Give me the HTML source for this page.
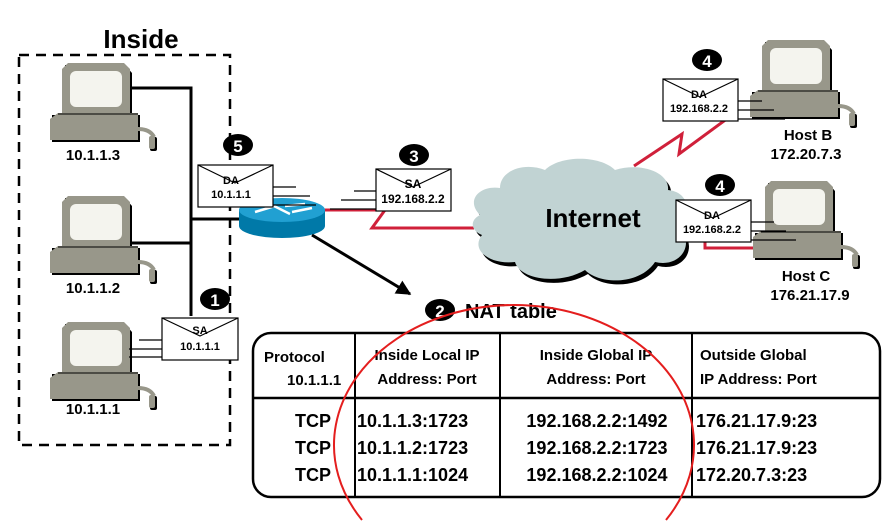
<!DOCTYPE html>
<html><head><meta charset="utf-8"><style>
html,body{margin:0;padding:0;background:#fff;width:891px;height:521px;overflow:hidden;}
svg{display:block;font-family:"Liberation Sans",Arial,sans-serif;font-weight:bold;overflow:hidden;}
</style></head><body>
<svg width="891" height="521" viewBox="0 0 891 521" xmlns="http://www.w3.org/2000/svg">
<defs>
<g id="pc">
  <path d="M15,2 L75,2 L82,10 L82,52 L15,52 Z" fill="#000"/>
  <path d="M12,6 L18,0 L74,0 L80,6 L80,50 L12,50 Z" fill="#98978a"/>
  <rect x="20" y="8" width="52" height="36" rx="6" fill="#f4f4ee"/>
  <rect x="2" y="52" width="88" height="27" fill="#000"/>
  <path d="M0,56 L8,50 L88,50 L88,77 L0,77 Z" fill="#98978a"/>
  <line x1="8" y1="51" x2="88" y2="51" stroke="#000" stroke-width="1"/>
  <path d="M88,66 Q100,66 104,74" stroke="#98978a" stroke-width="4" fill="none"/>
  <rect x="100" y="74" width="7" height="14" rx="2" fill="#000"/>
  <rect x="99" y="73" width="6" height="13" rx="2" fill="#98978a"/>
</g>
<marker id="ah" viewBox="0 0 10 10" refX="9" refY="5" markerWidth="5" markerHeight="5" orient="auto"><path d="M0,0 L10,5 L0,10 Z" fill="#000"/></marker>
</defs>

<text x="141" y="48" font-size="26" text-anchor="middle">Inside</text>
<rect x="19" y="55" width="211" height="390" fill="none" stroke="#000" stroke-width="2.5" stroke-dasharray="10,7"/>

<polyline points="127,88 191,88 191,316" fill="none" stroke="#000" stroke-width="3"/>
<line x1="127" y1="243" x2="191" y2="243" stroke="#000" stroke-width="3"/>
<line x1="191" y1="219" x2="240" y2="219" stroke="#000" stroke-width="3"/>

<use href="#pc" x="50" y="63"/>
<use href="#pc" x="50" y="196"/>
<use href="#pc" x="50" y="322"/>
<text x="93" y="160" font-size="15" text-anchor="middle">10.1.1.3</text>
<text x="93" y="293" font-size="15" text-anchor="middle">10.1.1.2</text>
<text x="93" y="414" font-size="15" text-anchor="middle">10.1.1.1</text>

<line x1="139" y1="340" x2="162" y2="340" stroke="#000" stroke-width="1.2"/>
<line x1="129" y1="349" x2="162" y2="349" stroke="#000" stroke-width="1.2"/>
<line x1="129" y1="357" x2="162" y2="357" stroke="#000" stroke-width="1.2"/>
<rect x="162" y="318" width="76" height="42" fill="#fff" stroke="#000" stroke-width="1.2"/>
<polyline points="162,318 200,336 238,318" fill="none" stroke="#000" stroke-width="1.2"/>
<text x="200" y="334" font-size="11" text-anchor="middle">SA</text>
<text x="200" y="350" font-size="11" text-anchor="middle">10.1.1.1</text>
<ellipse cx="215" cy="299" rx="15" ry="11" fill="#000"/>
<text x="215" y="306" font-size="17" fill="#fff" text-anchor="middle">1</text>

<polyline points="322,210 385,210 372,228 474,228" fill="none" stroke="#d0203a" stroke-width="3"/>
<polyline points="634,166 682,134 679,154 728,118" fill="none" stroke="#d0203a" stroke-width="3"/>
<polyline points="705,242 705,248 760,248" fill="none" stroke="#d0203a" stroke-width="3"/>

<path d="M239,210 L239,226 A43,12 0 0 0 325,226 L325,210 Z" fill="#0079a8"/>
<ellipse cx="282" cy="210" rx="43" ry="12" fill="#21a0d2"/>
<path d="M255,212 L275,206 M270,204 L290,214 M285,206 L305,204 M292,212 L312,208" stroke="#fff" stroke-width="2.5"/>

<line x1="273" y1="187" x2="296" y2="187" stroke="#000" stroke-width="1.2"/>
<line x1="273" y1="196" x2="310" y2="196" stroke="#000" stroke-width="1.2"/>
<line x1="273" y1="205" x2="316" y2="205" stroke="#000" stroke-width="1.2"/>
<rect x="198" y="165" width="75" height="42" fill="#fff" stroke="#000" stroke-width="1.2"/>
<polyline points="198,165 235,183 273,165" fill="none" stroke="#000" stroke-width="1.2"/>
<text x="231" y="184" font-size="11" text-anchor="middle">DA</text>
<text x="231" y="198" font-size="11" text-anchor="middle">10.1.1.1</text>
<ellipse cx="238" cy="145" rx="15" ry="11" fill="#000"/>
<text x="238" y="152" font-size="17" fill="#fff" text-anchor="middle">5</text>

<line x1="354" y1="191" x2="376" y2="191" stroke="#000" stroke-width="1.2"/>
<line x1="341" y1="200" x2="376" y2="200" stroke="#000" stroke-width="1.2"/>
<line x1="330" y1="209" x2="376" y2="209" stroke="#000" stroke-width="1.2"/>
<rect x="376" y="169" width="75" height="42" fill="#fff" stroke="#000" stroke-width="1.2"/>
<polyline points="376,169 413,187 451,169" fill="none" stroke="#000" stroke-width="1.2"/>
<text x="413" y="188" font-size="12" text-anchor="middle">SA</text>
<text x="413" y="203" font-size="12" text-anchor="middle">192.168.2.2</text>
<ellipse cx="414" cy="155" rx="15" ry="11" fill="#000"/>
<text x="414" y="162" font-size="17" fill="#fff" text-anchor="middle">3</text>

<line x1="312" y1="235" x2="410" y2="294" stroke="#000" stroke-width="3" marker-end="url(#ah)"/>

<g transform="translate(3,4)">
<path d="M480,215 C465,200 480,185 500,188 C500,170 525,162 545,170 C560,155 600,155 615,170 C640,162 670,172 668,190 C690,192 692,215 680,228 C695,245 680,268 655,262 C640,285 600,285 585,270 C560,285 520,280 515,262 C490,265 470,250 482,235 C470,230 470,220 480,215 Z" fill="#000"/>
</g>
<path d="M480,215 C465,200 480,185 500,188 C500,170 525,162 545,170 C560,155 600,155 615,170 C640,162 670,172 668,190 C690,192 692,215 680,228 C695,245 680,268 655,262 C640,285 600,285 585,270 C560,285 520,280 515,262 C490,265 470,250 482,235 C470,230 470,220 480,215 Z" fill="#c1d3d3"/>
<text x="593" y="227" font-size="26" text-anchor="middle">Internet</text>

<use href="#pc" x="750" y="40"/>
<line x1="738" y1="101" x2="762" y2="101" stroke="#000" stroke-width="1.2"/>
<line x1="738" y1="110" x2="774" y2="110" stroke="#000" stroke-width="1.2"/>
<line x1="738" y1="119" x2="785" y2="119" stroke="#000" stroke-width="1.2"/>
<rect x="663" y="79" width="75" height="42" fill="#fff" stroke="#000" stroke-width="1.2"/>
<polyline points="663,79 700,97 738,79" fill="none" stroke="#000" stroke-width="1.2"/>
<text x="699" y="98" font-size="11" text-anchor="middle">DA</text>
<text x="699" y="112" font-size="11" text-anchor="middle">192.168.2.2</text>
<ellipse cx="707" cy="60" rx="15" ry="11" fill="#000"/>
<text x="707" y="67" font-size="17" fill="#fff" text-anchor="middle">4</text>
<text x="808" y="140" font-size="15" text-anchor="middle">Host B</text>
<text x="806" y="159" font-size="15" text-anchor="middle">172.20.7.3</text>

<use href="#pc" x="753" y="181"/>
<line x1="751" y1="222" x2="774" y2="222" stroke="#000" stroke-width="1.2"/>
<line x1="751" y1="231" x2="786" y2="231" stroke="#000" stroke-width="1.2"/>
<line x1="751" y1="240" x2="796" y2="240" stroke="#000" stroke-width="1.2"/>
<rect x="676" y="200" width="75" height="42" fill="#fff" stroke="#000" stroke-width="1.2"/>
<polyline points="676,200 713,218 751,200" fill="none" stroke="#000" stroke-width="1.2"/>
<text x="712" y="219" font-size="11" text-anchor="middle">DA</text>
<text x="712" y="233" font-size="11" text-anchor="middle">192.168.2.2</text>
<ellipse cx="720" cy="185" rx="15" ry="11" fill="#000"/>
<text x="720" y="192" font-size="17" fill="#fff" text-anchor="middle">4</text>
<text x="806" y="281" font-size="15" text-anchor="middle">Host C</text>
<text x="810" y="300" font-size="15" text-anchor="middle">176.21.17.9</text>

<ellipse cx="440" cy="310" rx="15" ry="11" fill="#000"/>
<text x="440" y="317" font-size="17" fill="#fff" text-anchor="middle">2</text>
<text x="465" y="318" font-size="20">NAT table</text>
<rect x="253" y="333" width="627" height="164" rx="18" fill="none" stroke="#000" stroke-width="2.5"/>
<line x1="355" y1="333" x2="355" y2="497" stroke="#000" stroke-width="2"/>
<line x1="500" y1="333" x2="500" y2="497" stroke="#000" stroke-width="2"/>
<line x1="692" y1="333" x2="692" y2="497" stroke="#000" stroke-width="2"/>
<line x1="253" y1="398" x2="880" y2="398" stroke="#000" stroke-width="2.5"/>
<g font-size="15">
<text x="264" y="362">Protocol</text>
<text x="287" y="385">10.1.1.1</text>
<text x="427" y="360" text-anchor="middle">Inside Local IP</text>
<text x="427" y="384" text-anchor="middle">Address: Port</text>
<text x="596" y="360" text-anchor="middle">Inside Global IP</text>
<text x="596" y="384" text-anchor="middle">Address: Port</text>
<text x="700" y="360">Outside Global</text>
<text x="700" y="384">IP Address: Port</text>
</g>
<g font-size="18">
<text x="331" y="427" text-anchor="end">TCP</text>
<text x="331" y="454" text-anchor="end">TCP</text>
<text x="331" y="481" text-anchor="end">TCP</text>
<text x="357" y="427">10.1.1.3:1723</text>
<text x="357" y="454">10.1.1.2:1723</text>
<text x="357" y="481">10.1.1.1:1024</text>
<text x="597" y="427" text-anchor="middle">192.168.2.2:1492</text>
<text x="597" y="454" text-anchor="middle">192.168.2.2:1723</text>
<text x="597" y="481" text-anchor="middle">192.168.2.2:1024</text>
<text x="696" y="427">176.21.17.9:23</text>
<text x="696" y="454">176.21.17.9:23</text>
<text x="696" y="481">172.20.7.3:23</text>
</g>
<path d="M362,520 A180,140 0 1 1 666,520" fill="none" stroke="#e41e1e" stroke-width="2"/>
</svg>
</body></html>
